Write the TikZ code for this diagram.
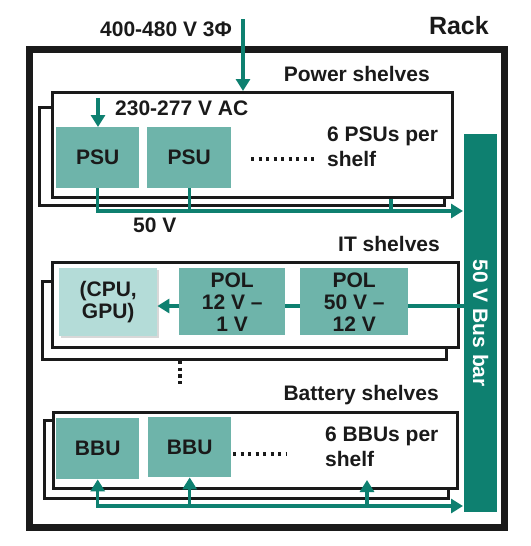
\documentclass[tikz,border=0pt]{standalone}
\usepackage{fontspec}
\setmainfont{Liberation Sans}
\usetikzlibrary{arrows.meta,shadows}
\definecolor{teal1}{HTML}{0E8070}
\definecolor{unitfill}{HTML}{6EB4AA}
\definecolor{chipfill}{HTML}{B4DCD8}
\definecolor{ink}{HTML}{1A1A1A}
\begin{document}
\begin{tikzpicture}[x=1pt,y=-1pt,
 lbl/.style={font=\bfseries\fontsize{21}{22}\selectfont, text=ink, inner sep=0pt},
 unit/.style={fill=unitfill, draw=none, font=\bfseries\fontsize{21}{22}\selectfont, text=ink, inner sep=0pt, anchor=north west, align=center},
 shelf/.style={draw=ink, line width=2.6pt, fill=white, inner sep=0pt, anchor=north west},
 tip/.tip={Triangle[length=12pt,width=14pt]},
 wire/.style={draw=teal1, line width=3.2pt},
 feed/.style={wire, -tip},
 dotline/.style={draw=ink, line width=3.2pt, dash pattern=on 3.2pt off 4.3pt},
]
\useasboundingbox (0,0) rectangle (530,546);
% rack
\node[draw=ink, line width=7pt, minimum width=475pt, minimum height=478pt, anchor=north west, inner sep=0pt] (rack) at (26,46) {};
\node[lbl, font=\bfseries\fontsize{25}{26}\selectfont, anchor=base east] (racklbl) at (489,34) {Rack};
\node[lbl, anchor=base west] (inlbl) at (100,36) {400-480 V 3Φ};
% bus bar
\node[fill=teal1, draw=none, minimum width=33pt, minimum height=378pt, anchor=north west, inner sep=0pt] (bus) at (464,134) {};
\node[lbl, text=white, rotate=-90] (buslbl) at (bus.center) {50 V Bus bar};
% power shelves
\node[lbl, anchor=base east] (pslbl) at (430,81) {Power shelves};
\node[shelf, minimum width=405pt, minimum height=98pt] (psback) at (38,106) {};
\node[shelf, minimum width=400pt, minimum height=105pt] (psfront) at (51,91) {};
\coordinate (acin) at (243,19);
\draw[feed] (acin) -- (acin |- psfront.north);
\node[lbl, anchor=base west] (aclbl) at (115,115) {230-277 V AC};
\node[unit, minimum width=83pt, minimum height=61pt] (psu1) at (56,127) {PSU};
\node[unit, minimum width=84pt, minimum height=61pt] (psu2) at (147,127) {PSU};
\coordinate (psuin) at (98,98);
\draw[feed] (psuin) -- (psuin |- psu1.north);
\draw[dotline] (251,159) -- (318,159);
\node[lbl, anchor=north west, align=left, font=\bfseries\fontsize{21}{25}\selectfont] (psnote) at (327,127) {6 PSUs per\\shelf};
\coordinate (psbus) at (463,211);
\coordinate (pstap) at (391,211);
\draw[feed] (psu1.south) |- (psbus);
\draw[wire] (psu2.south) -- (psu2.south |- psbus);
\draw[wire] (psfront.south -| pstap) -- (pstap);
\node[lbl, anchor=base west] (v50) at (133,232) {50 V};
% IT shelves
\node[lbl, anchor=base east] (itlbl) at (440,251) {IT shelves};
\node[shelf, minimum width=404pt, minimum height=78pt] (itback) at (41,280) {};
\node[shelf, minimum width=406pt, minimum height=85pt] (itfront) at (51,261) {};
\node[unit, fill=chipfill, minimum width=98pt, minimum height=68pt, drop shadow={shadow xshift=2pt, shadow yshift=-2pt, opacity=0.3, fill=gray}] (cpu) at (59,268) {(CPU,\\GPU)};
\node[unit, minimum width=106pt, minimum height=67pt] (pol1) at (179,268) {POL\\12 V –\\1 V};
\node[unit, minimum width=108pt, minimum height=67pt] (pol2) at (300,268) {POL\\50 V –\\12 V};
\coordinate (itbus) at (464,306);
\draw[wire] (itbus) -- (itbus -| pol2.east);
\draw[wire] (itbus -| pol2.west) -- (itbus -| pol1.east);
\draw[feed] (itbus -| pol1.west) -- (itbus -| cpu.east);
\draw[dotline, dash pattern=on 3.2pt off 3.5pt] (180,361) -- (180,386);
% battery shelves
\node[lbl, anchor=base east] (batlbl) at (439,400) {Battery shelves};
\node[shelf, minimum width=404pt, minimum height=78pt] (batback) at (43,419) {};
\node[shelf, minimum width=404pt, minimum height=76pt] (batfront) at (52,411) {};
\node[unit, minimum width=83pt, minimum height=61pt] (bbu1) at (56,418) {BBU};
\node[unit, minimum width=83pt, minimum height=60pt] (bbu2) at (148,417) {BBU};
\draw[dotline] (233,454) -- (287,454);
\node[lbl, anchor=north west, align=left, font=\bfseries\fontsize{21}{25}\selectfont] (batnote) at (325,427) {6 BBUs per\\shelf};
\coordinate (batbus) at (463,506);
\coordinate (battap) at (367,480);
\draw[wire, tip-tip] (bbu1.south) |- (batbus);
\draw[wire, -tip] (bbu2.south |- batbus) -- (bbu2.south);
\draw[wire, -tip] (battap |- batbus) -- (battap);
\end{tikzpicture}
\end{document}
